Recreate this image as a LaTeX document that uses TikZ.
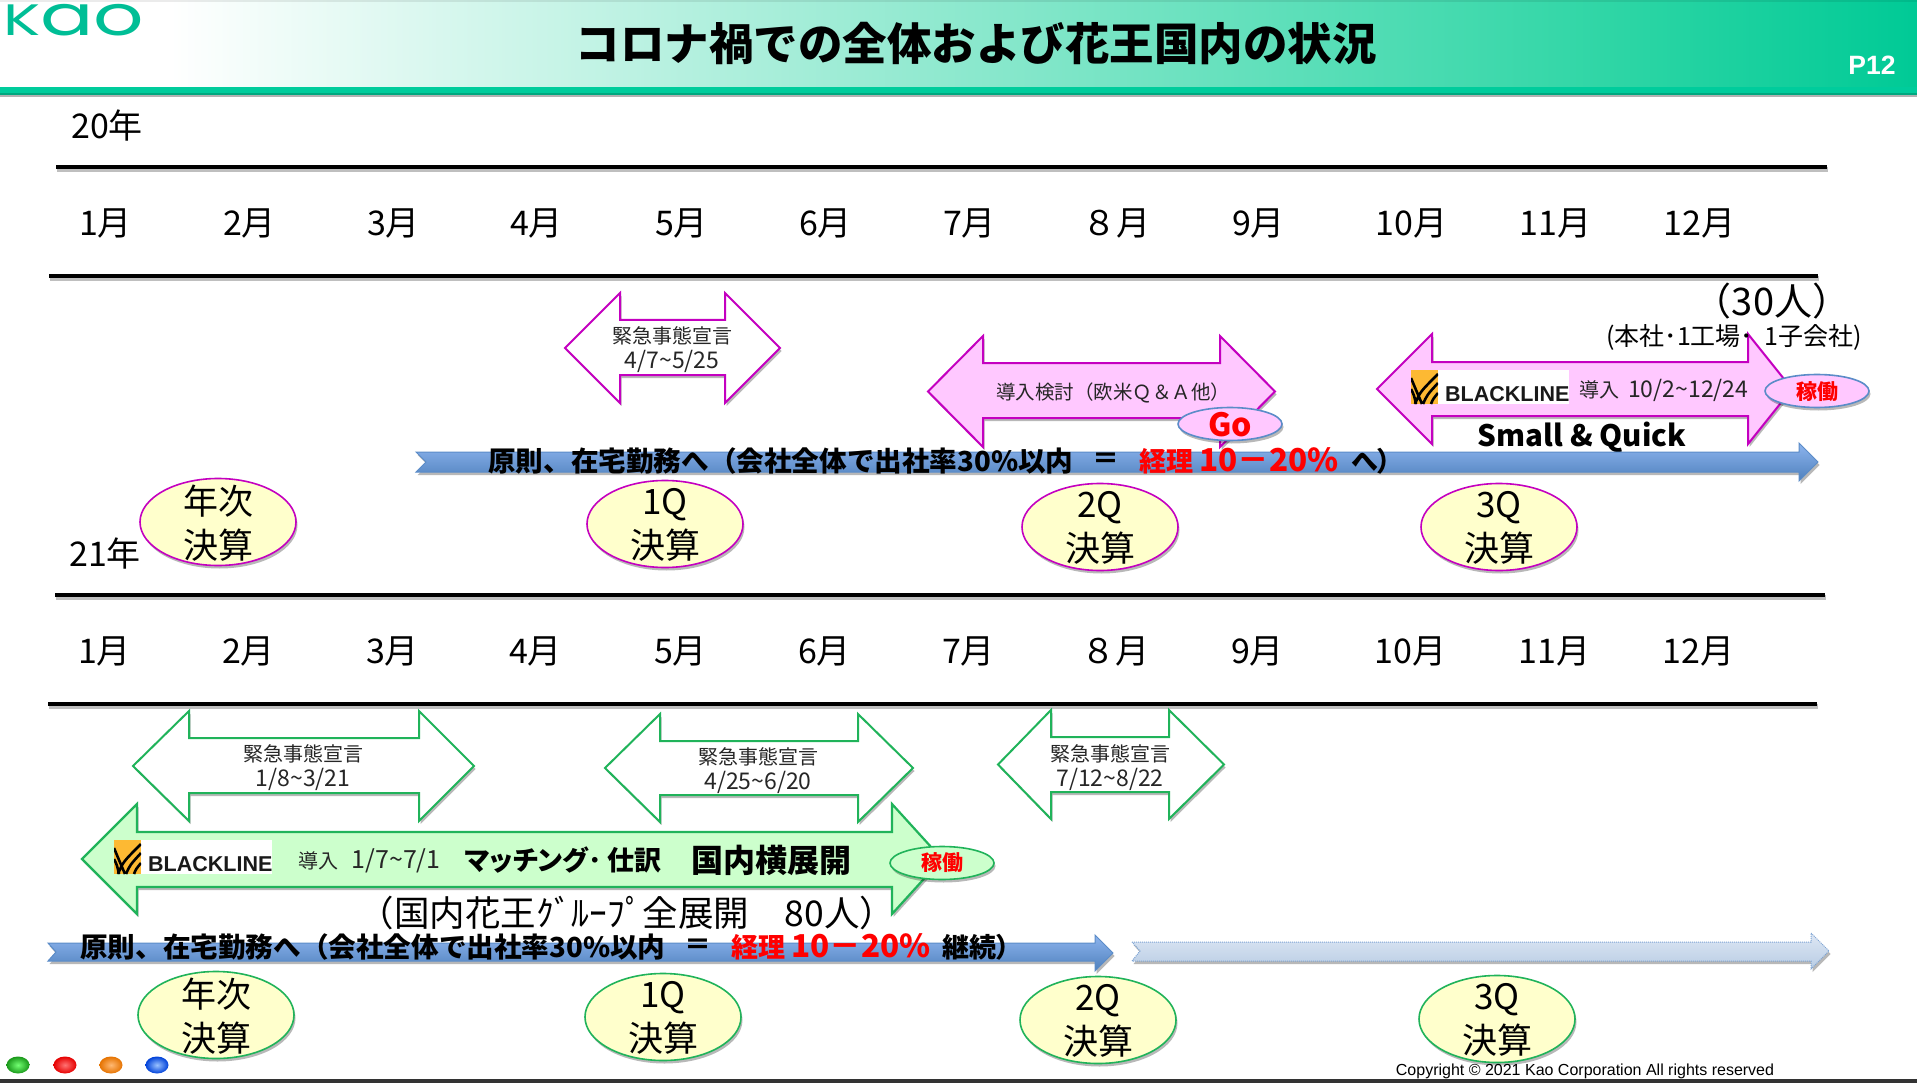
\documentclass[tikz,border=0pt]{standalone}
\usepackage{fontspec}
\setmainfont{Noto Sans CJK JP}
\newfontfamily\palt[RawFeature=+palt]{Noto Sans CJK JP}
\newfontfamily\arial{Liberation Sans}
\newfontfamily\pop{Poppins}
\usetikzlibrary{shapes.geometric,shadows}
\definecolor{kaog}{HTML}{00BE96}
\definecolor{hdr}{HTML}{30D6A6}
\definecolor{hdrend}{HTML}{00CA96}
\definecolor{barg}{HTML}{00CC9C}
\definecolor{pinkf}{HTML}{FFC8FF}
\definecolor{magst}{HTML}{C400C0}
\definecolor{grnst}{HTML}{20B35A}
\definecolor{grnf}{HTML}{CCFFCC}
\definecolor{yelf}{HTML}{FFFFCC}
\definecolor{blst}{HTML}{5B8CC8}
\definecolor{bltop}{HTML}{8DB4EE}
\definecolor{blbot}{HTML}{4F81BD}
\definecolor{patop}{HTML}{DEE7F4}
\definecolor{pabot}{HTML}{B8CCE4}
\definecolor{gold}{HTML}{FDB933}
\newcommand{\fs}[1]{\fontsize{#1}{#1}\selectfont}
\newcommand{\fsl}[2]{\fontsize{#1}{#2}\selectfont}
\newcommand{\tld}{\char"7E\relax}
\newcommand{\dg}[1]{{\fs{23}#1}}
\tikzset{
  softshadow/.style={general shadow={fill=black,opacity=.28,shadow xshift=1.5pt,shadow yshift=-3pt}},
  mon/.style={font=\fs{34},inner sep=0pt},
  rule/.style={line width=4.5pt,black},
  ruleshadow/.style={line width=4.5pt,black!50,opacity=.5},
  pinkarrow/.style={draw=magst,fill=pinkf,line width=2pt,softshadow},
  whitepink/.style={draw=magst,fill=white,line width=2pt,softshadow},
  whitegreen/.style={draw=grnst,fill=white,line width=2pt,softshadow},
  greenarrow/.style={draw=grnst,fill=grnf,line width=2.2pt,softshadow},
  bluearrow/.style={draw=blst,line width=1pt,top color=bltop,bottom color=blbot,softshadow},
  pale/.style={draw=blst!80,densely dotted,line width=1pt,top color=patop,bottom color=pabot,softshadow},
  smalltxt/.style={font=\fsl{20}{25},align=center,inner sep=0pt,text=black!85},
  boldline/.style={font=\fs{27.6}\bfseries,inner sep=0pt,anchor=west},
  paltline/.style={font=\palt\fs{27}\bfseries,inner sep=0pt,anchor=west},
  qyel/.style={ellipse,inner sep=0pt,minimum width=156pt,minimum height=87pt,fill=yelf,line width=1.6pt,softshadow},
  qpink/.style={qyel,draw=magst},
  qgreen/.style={qyel,draw=grnst},
  qtext/.style={align=center,font=\fsl{35}{44},inner sep=0pt},
  tag/.style={ellipse,inner sep=0pt,draw=blst,line width=1.6pt,minimum width=104pt,minimum height=33pt,softshadow},
  ball/.style={ellipse,inner sep=0pt,minimum width=23pt,minimum height=17pt}
}
\newcommand{\dbarrow}[9]{\path[#1] (#2,{(#6+#9)/2}) -- (#3,#6) -- (#3,#7) -- (#4,#7) -- (#4,#6) -- (#5,{(#6+#9)/2}) -- (#4,#9) -- (#4,#8) -- (#3,#8) -- (#3,#9) -- cycle;}
\newcommand{\blackline}[3]{%
  \fill[white] (#1,#2) rectangle ++(158,34);
  \begin{scope}[shift={(#1,#2)}]
    \begin{scope}
      \clip (0,0) rectangle (27,34);
      \fill[gold] (0,0) rectangle (27,34);
      \draw[black,line width=2.6pt] (0,8) .. controls (5,20) .. (11,34) (0,19) .. controls (3,25) .. (5,34)
        (4,34) .. controls (9,22) .. (27,4) (12,34) .. controls (16,25) .. (27,13) (20,34) .. controls (22,29) .. (27,23);
    \end{scope}
    \node[font=\arial\fs{21.5}\bfseries,text=black!90,anchor=west,inner sep=0pt] (#3) at (34,24) {BLACKLINE};
  \end{scope}
}
\newcommand{\qnode}[5]{\node[#1] (#2) at (#3,#4) {}; \node[qtext] (#2t) at (#3,#4+1) {#5};}
\begin{document}
\begin{tikzpicture}[x=1pt,y=-1pt]
\useasboundingbox (0,0) rectangle (1917,1083);
\fill[white] (0,0) rectangle (1917,1083);
% header
\shade[left color=white,right color=hdr] (170,0) rectangle (1600,88);
\shade[left color=hdr,right color=hdrend] (1600,0) rectangle (1917,88);
\fill[black,opacity=.08] (0,0) rectangle (1917,2);
\fill[black!30] (0,95) rectangle (1917,97);
\fill[barg] (0,87) rectangle (1917,95);
\fill[black,opacity=.18] (0,93) rectangle (1917,95);
\node[inner sep=0pt,text=kaog,xscale=1.41,anchor=west] (logo) at (3,20) {\pop\fontsize{44}{44}\selectfont K\fontsize{56}{56}\selectfont ao};
\node[font=\fs{44.5}\bfseries,inner sep=0pt] (title) at (976,44) {コロナ禍での全体および花王国内の状況};
\node[font=\arial\fs{26.5}\bfseries,text=white,inner sep=0pt] (pg) at (1872,65) {P12};
% year 20
\node[mon] (y20) at (107,126) {20年};
\foreach \a/\b/\c in {56/1827/167,49/1818/276,55/1825/595,48/1817/704}{
  \draw[ruleshadow] (\a+1,\c+2.5) -- (\b+1,\c+2.5);
  \draw[rule] (\a,\c) -- (\b,\c);
}
\foreach \t/\x/\n in {1月/105.5/a1,2月/249.5/a2,3月/393.5/a3,4月/536.5/a4,5月/681.5/a5,6月/825.5/a6,7月/969.5/a7,８月/1116/a8,9月/1258.5/a9,10月/1411.5/a10,11月/1555.5/a11,12月/1699.5/a12}
  \node[mon] (\n) at (\x,223) {\t};
% row 1 arrows
\dbarrow{whitepink}{565}{620}{725}{780}{293}{320}{375}{403}
\node[smalltxt] (e1) at (672,349.5) {緊急事態宣言\\\dg{4/7\tld 5/25}};
\dbarrow{pinkarrow}{928}{983}{1220}{1275}{336}{363}{418}{447}
\node[smalltxt,font=\fs{19.5}] (kento) at (1113,393) {導入検討（欧米Ｑ＆Ａ他）};
\dbarrow{pinkarrow}{1377}{1432}{1748}{1792}{334}{362}{416}{444}
\blackline{1411}{370}{bl1}
\node[smalltxt,anchor=west] (bl1t) at (1579,390) {導入\ \ \dg{10/2\tld 12/24}};
\node[tag,fill=pinkf] (kado1) at (1817,391) {};
\node[font=\fs{21}\bfseries,text=red,inner sep=0pt] (kado1t) at (1817,392) {稼働};
\node[font=\fs{29.5}\bfseries,inner sep=0pt] (sq) at (1582,437) {Small \& Quick};
\node[font=\fs{38},inner sep=0pt] (p30) at (1772,301) {（30人）};
\node[font=\fs{25},inner sep=0pt] (hq) at (1734,337) {(本社･1工場･\ \ 1子会社)};
% blue arrow 1
\path[bluearrow] (416,452) -- (1799,452) -- (1799,443) -- (1818,462) -- (1799,481) -- (1799,472) -- (416,472) -- (426,462) -- cycle;
\node[tag,fill=pinkf] (go) at (1230,424) {};
\node[font=\fs{32}\bfseries,text=red,inner sep=0pt] (gotx) at (1230,425) {Go};
\node[boldline] (m1) at (488,461) {原則、在宅勤務へ（会社全体で出社率30\%以内};
\node[font=\palt\fs{27}\bfseries,inner sep=0pt] (eq1) at (1106,461) {＝};
\node[boldline,font=\fs{27}\bfseries,text=red] (r1) at (1139,461) {経理\ {\fs{31.5}10－20\%}};
\node[paltline] (t1) at (1351,461) {へ）};
% row 1 ellipses
\qnode{qpink}{q10}{218}{522}{年次\\決算}
\qnode{qpink}{q11}{665}{524}{1Q\\決算}
\qnode{qpink}{q12}{1100}{527}{2Q\\決算}
\qnode{qpink}{q13}{1499}{527}{3Q\\決算}
% year 21
\node[mon] (y21) at (105,554) {21年};
\foreach \t/\x/\n in {1月/104.5/b1,2月/248.5/b2,3月/392.5/b3,4月/535.5/b4,5月/680.5/b5,6月/824.5/b6,7月/968.5/b7,８月/1115/b8,9月/1257.5/b9,10月/1410.5/b10,11月/1554.5/b11,12月/1698.5/b12}
  \node[mon] (\n) at (\x,651) {\t};
% row 2 arrows
\dbarrow{whitegreen}{133}{189}{419}{474}{711}{738}{793}{821}
\node[smalltxt] (e2) at (303,768) {緊急事態宣言\\\dg{1/8\tld 3/21}};
\dbarrow{whitegreen}{605}{660}{858}{913}{714}{741}{795}{822}
\node[smalltxt] (e3) at (758,771) {緊急事態宣言\\\dg{4/25\tld 6/20}};
\dbarrow{whitegreen}{998}{1051}{1169}{1224}{710}{737}{792}{819}
\node[smalltxt] (e4) at (1110,768) {緊急事態宣言\\\dg{7/12\tld 8/22}};
\dbarrow{greenarrow}{82}{137}{892}{942}{804}{832}{887}{914}
\blackline{114}{840}{bl2}
\node[smalltxt,anchor=west] (bl2t) at (298,861) {導入\ \ \ {\fs{25}1/7\tld 7/1}};
\node[paltline] (mt) at (465,860) {マッチング･};
\node[paltline] (sw) at (607,860) {仕訳};
\node[paltline,font=\palt\fs{32}\bfseries] (kn) at (691,860) {国内横展開};
\node[tag,fill=grnf,draw=grnst] (kado2) at (942,863) {};
\node[font=\fs{21}\bfseries,text=red,inner sep=0pt] (kado2t) at (942,863) {稼働};
\node[font=\fs{35.5},inner sep=0pt] (grp) at (627,913) {（国内花王ｸﾞﾙｰﾌﾟ全展開　80人）};
% blue arrow 2
\path[bluearrow] (48,943) -- (1095,943) -- (1095,935) -- (1113,953) -- (1095,971) -- (1095,961) -- (48,961) -- (56,952) -- cycle;
\path[pale] (1132,942) -- (1811,942) -- (1811,933) -- (1829,951) -- (1811,969) -- (1811,961) -- (1132,961) -- (1140,951) -- cycle;
\node[boldline] (m2) at (80,947) {原則、在宅勤務へ（会社全体で出社率30\%以内};
\node[font=\palt\fs{27}\bfseries,inner sep=0pt] (eq2) at (698,947) {＝};
\node[boldline,font=\fs{27}\bfseries,text=red] (r2) at (731,947) {経理\ {\fs{31.5}10－20\%}};
\node[paltline] (t2) at (942,947) {継続）};
% row 2 ellipses
\qnode{qgreen}{q20}{216}{1015}{年次\\決算}
\qnode{qgreen}{q21}{663}{1017}{1Q\\決算}
\qnode{qgreen}{q22}{1098}{1020}{2Q\\決算}
\qnode{qgreen}{q23}{1497}{1019}{3Q\\決算}
% footer
\node[ball,inner color=green!55!white,outer color=green!55!black!90] (d1) at (18,1065) {};
\node[ball,inner color=red!55!white,outer color=red!90!black] (d2) at (65,1065) {};
\node[ball,inner color=orange!55!white,outer color=orange!90!black] (d3) at (111,1065) {};
\node[ball,inner color=cyan!40!blue!40!white,outer color=cyan!30!blue!85!black] (d4) at (157,1065) {};
\fill[black!80] (0,1079) rectangle (1917,1083);
\node[font=\arial\fs{16},inner sep=0pt] (copy) at (1585,1071) {Copyright © 2021 Kao Corporation All rights reserved};
\end{tikzpicture}
\end{document}
